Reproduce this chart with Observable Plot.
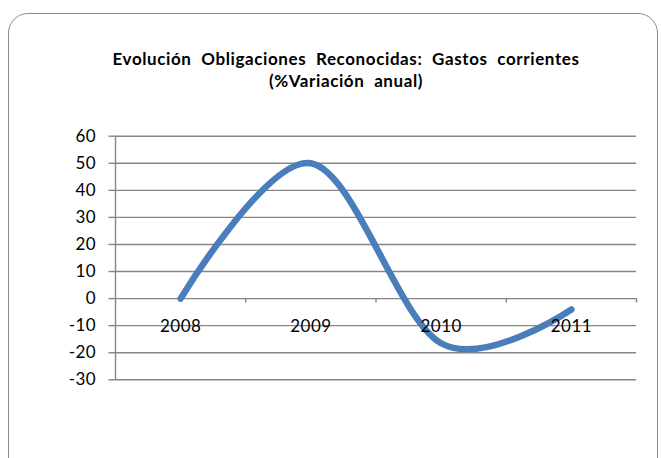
<!DOCTYPE html>
<html><head><meta charset="utf-8">
<script src="https://cdn.jsdelivr.net/npm/d3@7"></script>
<script src="https://cdn.jsdelivr.net/npm/@observablehq/plot@0.6"></script>
<style>
body{margin:0;background:#fff;}
#wrap{position:relative;width:661px;height:458px;overflow:hidden;font-family:Lato,"Open Sans",sans-serif;background:#fff;}
#frame{position:absolute;left:8px;top:13px;width:650px;height:470px;border:1.5px solid #8c8c8c;border-radius:20px;box-sizing:border-box;}
#title{position:absolute;left:0;width:692px;top:47.5px;text-align:center;font-weight:bold;font-size:17px;line-height:22px;color:#000;white-space:nowrap;letter-spacing:0.6px;}
#chart{position:absolute;left:0;top:0;}
</style></head>
<body><div id="wrap"><div id="frame"></div><div id="chart"></div>
<div id="title"><span id="t1">Evolución Obligaciones Reconocidas: Gastos corrientes</span><br><span id="t2">(%Variación anual)</span></div></div>
<script>
const years = ["2008", "2009", "2010", "2011"];
const values = [0, 50, -16.5, -4];
const yTicks = [-30, -20, -10, 0, 10, 20, 30, 40, 50, 60];

// fit title line width to reference by widening word gaps
const t1 = document.getElementById("t1");
const w1 = t1.getBoundingClientRect().width;
const target = 467;
const gaps = t1.textContent.split(" ").length - 1;
const ws = Math.max(0, (target - w1) / gaps);
document.getElementById("title").style.wordSpacing = ws + "px";

const data = years.map((year, i) => ({year, i: i + 1, value: values[i]}));
const bounds = d3.range(0, years.length + 1).map(k => k + 0.5);
const tickLen = 1.6;

const chart = Plot.plot({
  width: 661,
  height: 458,
  marginLeft: 115,
  marginRight: 25,
  marginTop: 135.7,
  marginBottom: 78.7,
  x: {type: "linear", domain: [bounds[0], bounds[bounds.length - 1]], axis: null},
  y: {domain: [yTicks[0], yTicks[yTicks.length - 1]], axis: null},
  style: {fontFamily: "Lato, 'Open Sans', sans-serif", fontSize: "17px", background: "transparent", color: "#000", overflow: "visible", letterSpacing: "0.4px"},
  marks: [
    Plot.ruleY(yTicks, {stroke: "#868686", strokeWidth: 1.4}),
    Plot.axisY({ticks: yTicks, label: null, tickSize: 6.5, tickPadding: 13, stroke: "#868686", strokeWidth: 1.4, fontSize: 17, fill: "#000", tickFormat: d => String(d).replace("−", "-")}),
    Plot.ruleX([bounds[0]], {y1: yTicks[0], y2: yTicks[yTicks.length - 1], stroke: "#868686", strokeWidth: 1.4}),
    Plot.ruleX(bounds.slice(1), {y1: 0, y2: -tickLen, stroke: "#868686", strokeWidth: 1.4}),
    Plot.line(data, {x: "i", y: "value", curve: "cardinal", stroke: "#4a7ebb", strokeWidth: 6.5, strokeLinecap: "round", strokeLinejoin: "round"}),
    Plot.text(data, {x: "i", y: 0, text: "year", dy: 27.5, fontSize: 17, fill: "#000"})
  ]
});
document.getElementById("chart").appendChild(chart);
</script>
</body></html>
